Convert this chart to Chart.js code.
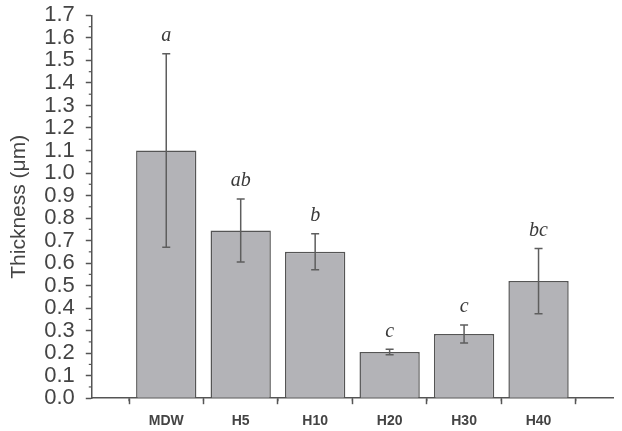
<!DOCTYPE html>
<html>
<head>
<meta charset="utf-8">
<script src="https://cdn.jsdelivr.net/npm/chart.js@4"></script>
<style>
    html, body { margin: 0; padding: 0; background: #ffffff; }
    #box { width: 622px; height: 431px; }
</style>
</head>
<body>
<div id="box"><canvas id="espessuraChart"></canvas></div>
<script>
// Dados
const categorias = ['MDW', 'H5', 'H10', 'H20', 'H30', 'H40'];
const espessura = [1.10, 0.745, 0.65, 0.205, 0.285, 0.52];
const desvio = [0.43, 0.14, 0.08, 0.012, 0.04, 0.145];
const letras = ['a', 'ab', 'b', 'c', 'c', 'bc'];

// Eixo x com uma posição vazia em cada ponta
const rotulos = [''].concat(categorias, ['']);
const valores = [null].concat(espessura, [null]);

const corTexto = '#444444';
const corLinha = '#555555';

// Barras de erro, letras e traços menores
const extras = {
    id: 'extras',
    afterDatasetsDraw(chart) {
        const ctx = chart.ctx;
        const x = chart.scales.x;
        const y = chart.scales.y;
        const area = chart.chartArea;
        ctx.save();
        ctx.strokeStyle = '#5e5e5e';
        ctx.lineWidth = 1.5;
        categorias.forEach((c, i) => {
            const px = x.getPixelForValue(i + 1);
            const topo = y.getPixelForValue(espessura[i] + desvio[i]);
            const base = y.getPixelForValue(espessura[i] - desvio[i]);
            ctx.beginPath();
            ctx.moveTo(px, topo);
            ctx.lineTo(px, base);
            ctx.moveTo(px - 4, topo);
            ctx.lineTo(px + 4, topo);
            ctx.moveTo(px - 4, base);
            ctx.lineTo(px + 4, base);
            ctx.stroke();

            ctx.fillStyle = '#3a3a3a';
            ctx.font = 'italic 20px "Liberation Serif"';
            ctx.textAlign = 'center';
            ctx.textBaseline = 'bottom';
            ctx.fillText(letras[i], px, topo - 8);
        });

        // traços menores
        ctx.strokeStyle = corLinha;
        ctx.lineWidth = 1.2;
        for (let v = 0.05; v < 1.7; v += 0.1) {
            const py = y.getPixelForValue(v);
            ctx.beginPath();
            ctx.moveTo(area.left - 3, py);
            ctx.lineTo(area.left, py);
            ctx.stroke();
        }
        for (let i = 0.5; i < rotulos.length - 1; i += 1) {
            const px = x.getPixelForValue(i);
            ctx.beginPath();
            ctx.moveTo(px, area.bottom);
            ctx.lineTo(px, area.bottom + 3);
            ctx.stroke();
        }
        ctx.restore();
    }
};

function criarGrafico() {
    const ctx = document.getElementById('espessuraChart').getContext('2d');

    new Chart(ctx, {
        type: 'bar',
        data: {
            labels: rotulos,
            datasets: [{
                data: valores,
                backgroundColor: '#b3b3b7',
                borderColor: '#555555',
                borderWidth: 1.5,
                categoryPercentage: 1,
                barPercentage: 0.81
            }]
        },
        options: {
            responsive: true,
            maintainAspectRatio: false,
            animation: false,
            layout: {
                padding: { top: 0, right: 1, left: 7, bottom: -8 }
            },
            plugins: {
                legend: { display: false },
                tooltip: { enabled: false }
            },
            scales: {
                x: {
                    offset: false,
                    border: { color: corLinha, width: 1.5 },
                    grid: {
                        drawOnChartArea: false,
                        tickLength: 6,
                        tickColor: corLinha,
                        tickWidth: 1.5
                    },
                    ticks: {
                        color: corTexto,
                        font: { family: '"Liberation Sans", Arial', size: 14, weight: 'bold' },
                        padding: 9,
                        maxRotation: 0,
                        autoSkip: false
                    }
                },
                y: {
                    min: 0,
                    max: 1.7,
                    border: { color: corLinha, width: 1.5 },
                    grid: {
                        drawOnChartArea: false,
                        tickLength: 6,
                        tickColor: corLinha,
                        tickWidth: 1.5
                    },
                    ticks: {
                        stepSize: 0.1,
                        autoSkip: false,
                        color: corTexto,
                        font: { family: '"Liberation Sans", Arial', size: 22, lineHeight: 0.4 },
                        padding: 11,
                        callback: function(value) {
                            return value.toFixed(1);
                        }
                    },
                    title: {
                        display: true,
                        text: 'Thickness (μm)',
                        color: corTexto,
                        font: { family: '"Liberation Sans", Arial', size: 21 },
                        padding: { top: 0, bottom: 1 }
                    }
                }
            }
        },
        plugins: [extras]
    });
}

document.addEventListener('DOMContentLoaded', criarGrafico);
</script>
</body>
</html>
